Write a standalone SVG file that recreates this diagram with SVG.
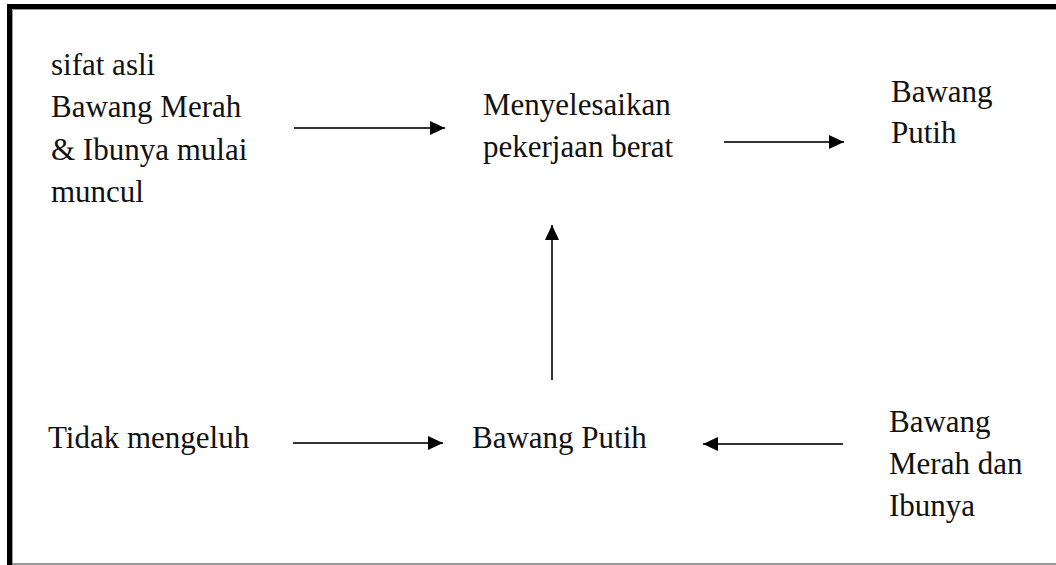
<svg xmlns="http://www.w3.org/2000/svg" width="1056" height="565" viewBox="0 0 1056 565">
<style>
text{font-family:"Liberation Serif","Times New Roman",serif;font-size:31px;fill:#111}
.ln{stroke:#333;stroke-width:2;fill:none}
</style>
<defs>
<marker id="ah" markerUnits="userSpaceOnUse" markerWidth="16" markerHeight="16" refX="15" refY="7" orient="auto">
<path d="M0,0 L15,7 L0,14 Z" fill="#000"/>
</marker>
</defs>
<rect width="1056" height="565" fill="#fff"/>
<g id="frame">
<path d="M9.5,565 V6.5 H1056" stroke="#000" stroke-width="5" fill="none"/>
<path d="M12.5,565 V9.5 H1056" stroke="#999" stroke-width="1" fill="none"/>
<path d="M12,564 H1056" stroke="#777" stroke-width="1.5" fill="none"/>
</g>
<g id="connectors">
<line class="ln" x1="294" y1="128" x2="445" y2="128" marker-end="url(#ah)"/>
<line class="ln" x1="724" y1="142" x2="844" y2="142" marker-end="url(#ah)"/>
<line class="ln" x1="293" y1="443" x2="443" y2="443" marker-end="url(#ah)"/>
<line class="ln" x1="843" y1="444" x2="703" y2="444" marker-end="url(#ah)"/>
<line class="ln" x1="552" y1="380" x2="552" y2="225" marker-end="url(#ah)"/>
</g>
<g id="node-sifat">
<text x="51" y="75">sifat asli</text>
<text x="51" y="117">Bawang Merah</text>
<text x="51" y="160">&amp; Ibunya mulai</text>
<text x="51" y="202">muncul</text>
</g>
<g id="node-menyelesaikan">
<text x="483" y="115">Menyelesaikan</text>
<text x="483" y="157">pekerjaan berat</text>
</g>
<g id="node-bawang-putih-top">
<text x="891" y="102">Bawang</text>
<text x="891" y="143">Putih</text>
</g>
<g id="node-tidak">
<text x="48" y="448">Tidak mengeluh</text>
</g>
<g id="node-bawang-putih">
<text x="472" y="448">Bawang Putih</text>
</g>
<g id="node-merah-ibu">
<text x="889" y="432">Bawang</text>
<text x="889" y="474">Merah dan</text>
<text x="889" y="516">Ibunya</text>
</g>
</svg>
